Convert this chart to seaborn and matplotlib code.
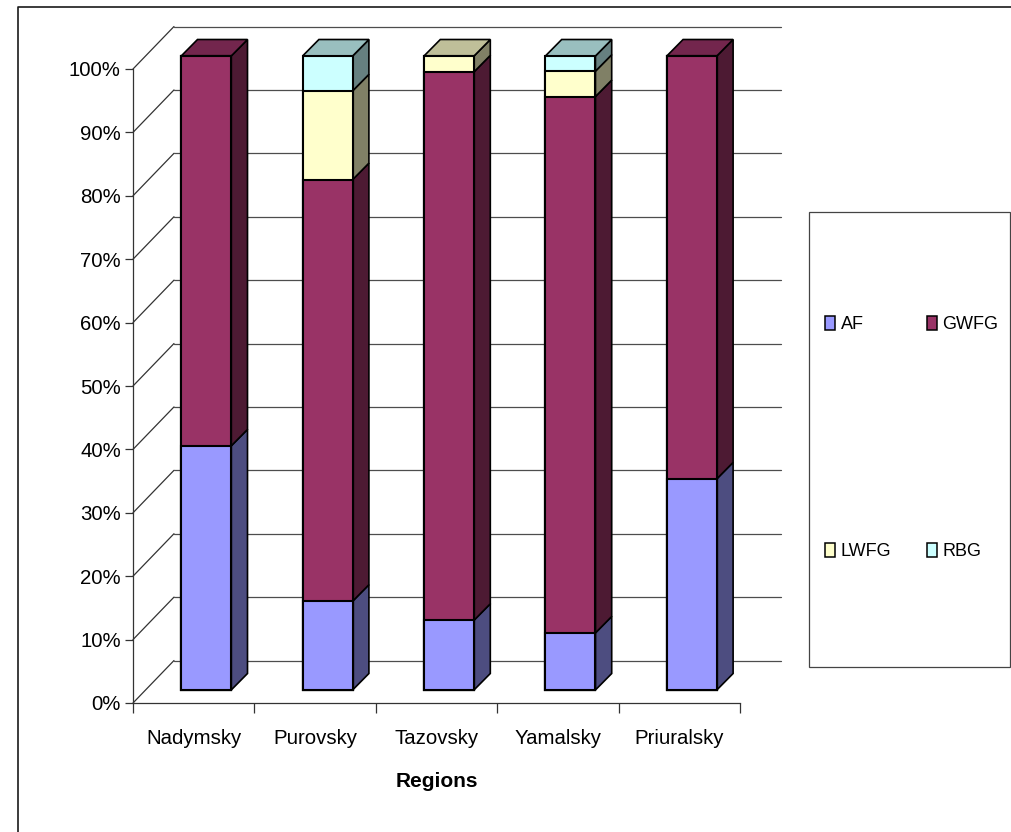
import numpy as np
import pandas as pd
import matplotlib
matplotlib.use("Agg")
import matplotlib.pyplot as plt
from matplotlib.lines import Line2D
from matplotlib.patches import Patch, Polygon, Rectangle
import seaborn as sns

regions = ["Nadymsky", "Purovsky", "Tazovsky", "Yamalsky", "Priuralsky"]
species = ["AF", "GWFG", "LWFG", "RBG"]
af = [38.5, 14.0, 11.0, 9.0, 33.3]
gwfg = [61.5, 66.5, 86.5, 84.6, 66.7]
lwfg = [0.0, 14.0, 2.5, 4.0, 0.0]
rbg = [0.0, 5.5, 0.0, 2.4, 0.0]

front_colors = ["#9999FF", "#993366", "#FFFFCC", "#CCFFFF"]
side_colors = ["#4D4D80", "#4D1A33", "#808066", "#668080"]
top_colors = ["#7373BF", "#73264D", "#BFBF99", "#99BFBF"]

W, H = 1012, 832
sns.set_style("white")
plt.rcParams["font.family"] = ["Liberation Sans", "DejaVu Sans"]
plt.rcParams["text.color"] = "black"
plt.rcParams["axes.labelcolor"] = "black"
plt.rcParams["xtick.labelcolor"] = "black"
plt.rcParams["ytick.labelcolor"] = "black"

fig = plt.figure(figsize=(W / 100, H / 100), dpi=100)
# front plane of the 3d box, in pixels: x 133-740, y 69-703
ax = fig.add_axes([133 / W, 1 - 703 / H, 607 / W, 634 / H])

df = pd.DataFrame({"region": regions, "AF": af, "GWFG": gwfg, "LWFG": lwfg, "RBG": rbg})
cum = df[species].cumsum(axis=1)
cum["region"] = df["region"]

# stacked bars: tallest cumulative total first, the others on top of it
for name, col in reversed(list(zip(species, front_colors))):
    sns.barplot(data=cum, x="region", y=name, color=col, saturation=1, width=0.412,
                edgecolor="black", linewidth=1.5, errorbar=None, ax=ax, zorder=5)

ax.set_xlim(-0.5, 4.5)
ax.set_ylim(0, 100)

px_x = 5 / 607
px_y = 100 / 634
off_x, off_y = 12.5 * px_x, 13 * px_y
bar_dx, bar_dy = 16.3 * px_x, 16.5 * px_y
wall_dx, wall_dy = 41 * px_x, 42.5 * px_y

for p in ax.patches:
    p.set_x(p.get_x() + off_x)
    p.set_y(p.get_y() + off_y)
    p.set_clip_on(False)

# side and top faces of the bars
cum_vals = df[species].cumsum(axis=1).to_numpy()
for i in range(len(regions)):
    xr = i + 0.206 + off_x
    xl = i - 0.206 + off_x
    low = off_y
    for j in range(len(species)):
        high = cum_vals[i, j] + off_y
        if df[species[j]][i] > 0:
            ax.add_patch(Polygon([(xr, low), (xr + bar_dx, low + bar_dy),
                                  (xr + bar_dx, high + bar_dy), (xr, high)],
                                 facecolor=side_colors[j], edgecolor="black", lw=1.2,
                                 zorder=4, clip_on=False))
            top_j = j
        low = high
    ax.add_patch(Polygon([(xl, low), (xr, low), (xr + bar_dx, low + bar_dy),
                          (xl + bar_dx, low + bar_dy)],
                         facecolor=top_colors[top_j], edgecolor="black", lw=1.2,
                         zorder=4, clip_on=False))

# walls: gridlines on the back, diagonals on the left
ticks = np.arange(0, 101, 10)
for t in ticks:
    ax.add_line(Line2D([-0.5, -0.5 + wall_dx], [t, t + wall_dy], color="#333333", lw=0.9,
                       zorder=1, clip_on=False))
    ax.add_line(Line2D([-0.5 + wall_dx, 4.5 + wall_dx], [t + wall_dy, t + wall_dy],
                       color="#4d4d4d", lw=0.9, zorder=1, clip_on=False))

ax.set_yticks(ticks)
ax.set_yticklabels([f"{t}%" for t in ticks])
ax.set_xticks(np.arange(-0.5, 5, 1), minor=True)
ax.tick_params(axis="x", which="major", length=0, pad=19, labelsize=14.7)
ax.tick_params(axis="x", which="minor", length=7.2, width=0.9, color="#333333", bottom=True)
ax.tick_params(axis="y", length=5.8, width=0.9, color="#333333", left=True, pad=3, labelsize=14.7)
ax.set_xlabel("Regions", fontsize=15, fontweight="bold", labelpad=17)
ax.set_ylabel("")
sns.despine(ax=ax, top=True, right=True)
for s in ["left", "bottom"]:
    ax.spines[s].set_color("#333333")
    ax.spines[s].set_linewidth(0.9)

# chart area border (top and left only) and legend box
fig.add_artist(Line2D([18 / W, 18 / W, 1], [0, 1 - 6.5 / H, 1 - 6.5 / H], color="#1a1a1a", lw=1.2))
fig.add_artist(Rectangle((809.5 / W, 1 - 667 / H), 201 / W, 455 / H, transform=fig.transFigure,
                         facecolor="white", edgecolor="#444444", lw=0.9))

order = [0, 2, 1, 3]
handles = [Patch(facecolor=front_colors[k], edgecolor="black", lw=1.1, label=species[k]) for k in order]
fig.legend(handles=handles, ncol=2, loc="upper left", frameon=False,
           bbox_to_anchor=(825.5 / W, 1 - 316 / H), bbox_transform=fig.transFigure,
           fontsize=13, handlelength=0.55, handleheight=0.78, handletextpad=0.3,
           columnspacing=1.95, labelspacing=11.65, borderpad=0, borderaxespad=0)

fig.savefig("out.png", dpi=100, facecolor="white")
